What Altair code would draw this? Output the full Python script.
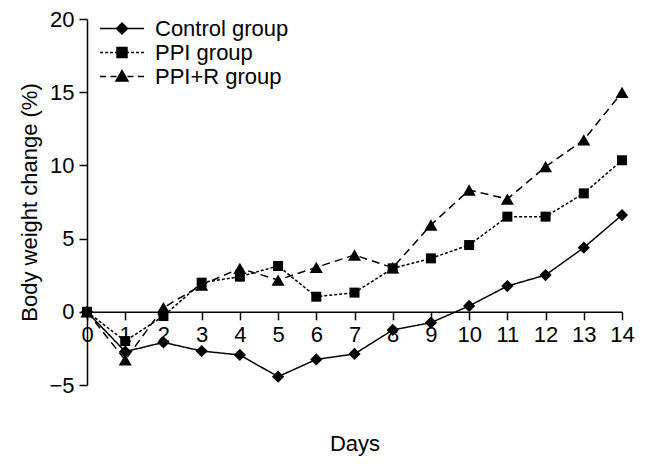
import altair as alt
import pandas as pd

# ---- data ----
days = list(range(15))
groups = ["Control group", "PPI group", "PPI+R group"]
control = [0, -2.72, -2.09, -2.68, -2.95, -4.43, -3.25, -2.88, -1.24, -0.74, 0.40, 1.76, 2.51, 4.38, 6.61]
ppi = [0, -2.0, -0.29, 1.99, 2.4, 3.13, 1.03, 1.31, 2.97, 3.65, 4.56, 6.5, 6.5, 8.09, 10.35]
ppir = [0, -3.29, 0.28, 1.83, 2.97, 2.17, 3.04, 3.88, 3.01, 5.93, 8.32, 7.70, 9.91, 11.74, 14.99]
y_ticks = [-5, 0, 5, 10, 15, 20]

rows = []
for g, vals in zip(groups, [control, ppi, ppir]):
    for d, v in zip(days, vals):
        rows.append({"day": d, "value": v, "group": g})
df = pd.DataFrame(rows)

FONT = "Liberation Sans"
FS = 22
W, H = 535, 366
Y_MIN, Y_MAX = -5, 20
x_offset = -H * (0 - Y_MIN) / (Y_MAX - Y_MIN)

dashes = {"Control group": [1, 0], "PPI group": [3, 2], "PPI+R group": [8, 5]}
shapes = {"Control group": "diamond", "PPI group": "square", "PPI+R group": "triangle-up"}
sizes = {"Control group": 150, "PPI group": 100, "PPI+R group": 170}


def seg_path(segs):
    return "".join(f"M{a},0H{b}" for a, b in segs)


# legend symbols: line (with its dash pattern) + marker, in symbol units
legend_paths = [
    seg_path([(-4.4, 4.4)]) + "M-1.1,0L0,-1.1L1.1,0L0,1.1Z",
    seg_path([(-4.4, -3.8), (-3.4, -2.8), (-2.4, -1.8), (-1.4, -0.8),
              (0.8, 1.4), (1.8, 2.4), (2.8, 3.4), (3.8, 4.4)]) + "M-1,-1H1V1H-1Z",
    seg_path([(-4.4, -3.2), (-2.3, -1.1), (1.1, 2.3), (3.2, 4.4)]) + "M0,-1.2L1.2,0.9L-1.2,0.9Z",
]

x_enc = alt.X(
    "day:Q",
    scale=alt.Scale(domain=[0, 14], nice=False, zero=False),
    axis=alt.Axis(values=days, title="Days", offset=x_offset, labelFlush=False,
                  labelOverlap=False, titlePadding=88, labelPadding=5),
)
y_enc = alt.Y(
    "value:Q",
    scale=alt.Scale(domain=[Y_MIN, Y_MAX], nice=False),
    axis=alt.Axis(values=y_ticks, title="Body weight change (%)", titlePadding=7,
                  labelPadding=5),
)

layers = []
for g in groups:
    base = alt.Chart(df).transform_filter(alt.datum.group == g)
    layers.append(
        base.mark_line(color="black", strokeWidth=1.5, strokeDash=dashes[g]).encode(x=x_enc, y=y_enc)
    )
for g in groups:
    base = alt.Chart(df).transform_filter(alt.datum.group == g)
    layers.append(
        base.mark_point(filled=True, color="black", opacity=1, shape=shapes[g], size=sizes[g]).encode(
            x=x_enc, y=y_enc
        )
    )

legend_layer = (
    alt.Chart(df)
    .transform_filter("false")
    .mark_point(filled=True, fill="black", stroke="black", strokeWidth=1.5, opacity=1)
    .encode(
        shape=alt.Shape(
            "group:N",
            scale=alt.Scale(domain=groups, range=legend_paths),
            legend=alt.Legend(
                title=None, orient="none", legendX=24, legendY=-1.5, padding=0,
                labelFont=FONT, labelFontSize=FS, labelColor="black", labelOffset=22,
                symbolSize=100, symbolStrokeWidth=1.5, rowPadding=2,
            ),
        )
    )
)
layers.append(legend_layer)

chart = (
    alt.layer(*layers)
    .properties(
        width=W, height=H,
        autosize=alt.AutoSizeParams(type="none"),
        padding={"left": 79, "top": 11, "right": 16, "bottom": 76},
    )
    .configure_view(stroke=None)
    .configure_axis(
        grid=False, domainColor="black", domainWidth=1.5, tickColor="black", tickWidth=1.5,
        tickSize=8, labelFont=FONT, labelFontSize=FS, labelColor="black",
        titleFont=FONT, titleFontSize=FS, titleFontWeight="normal", titleColor="black",
    )
)

chart.save("out.html", embed_options={"renderer": "svg", "actions": False})
